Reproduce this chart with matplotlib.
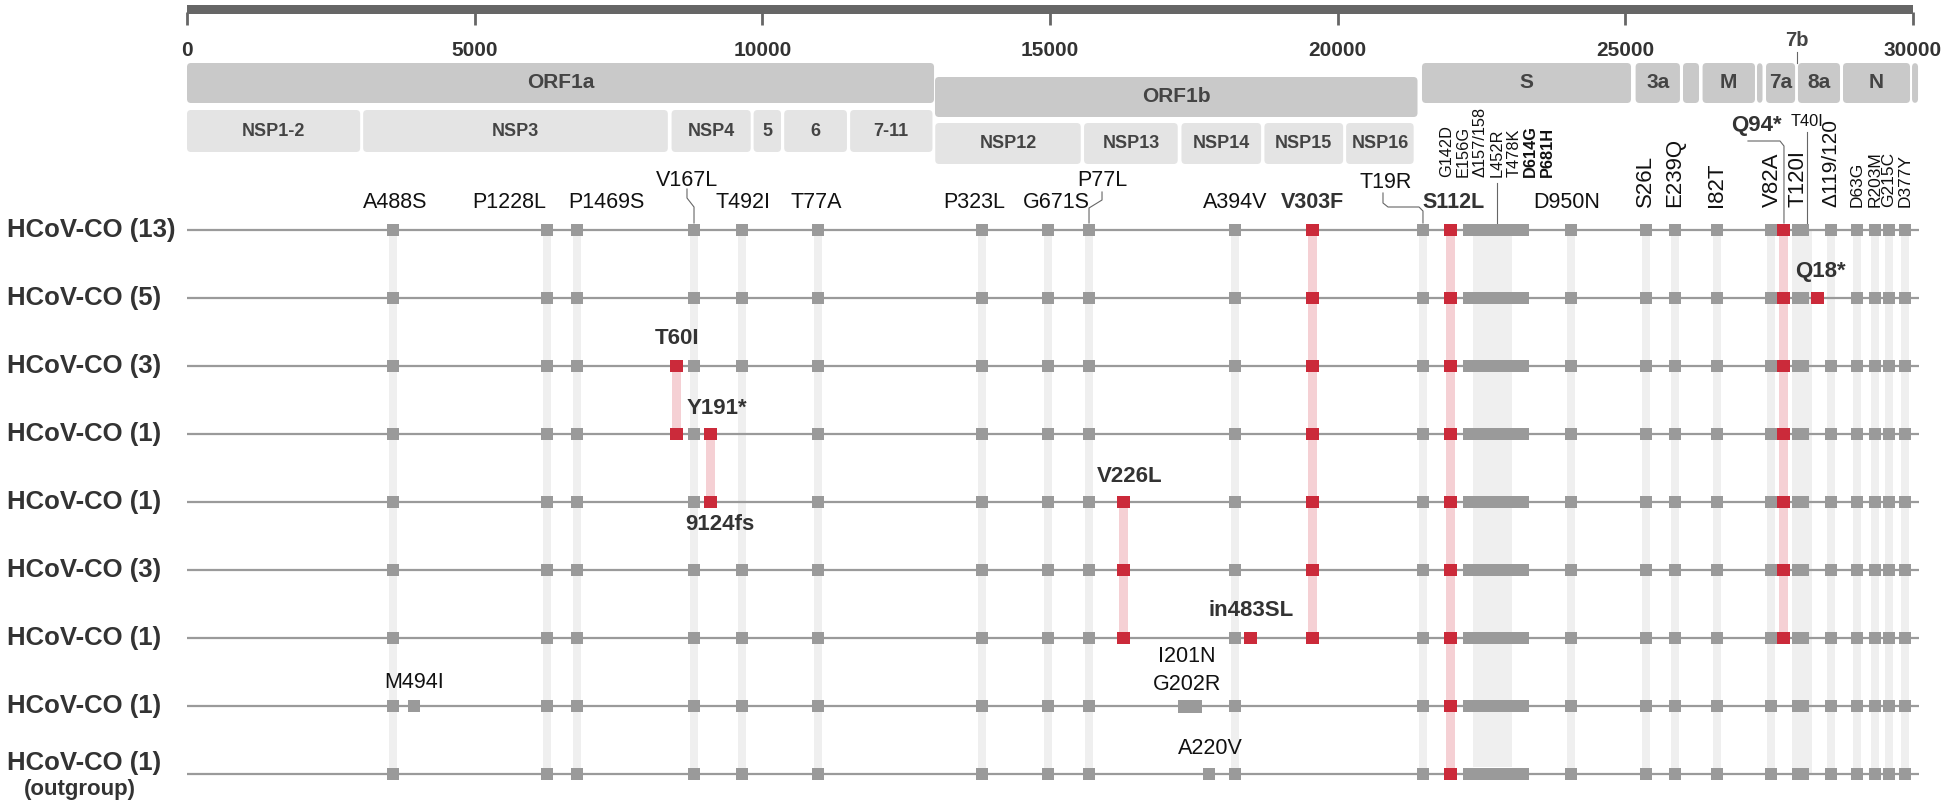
import matplotlib
matplotlib.use('Agg')
import matplotlib.pyplot as plt
from matplotlib.patches import FancyBboxPatch

plt.rcParams['font.family'] = ['Liberation Sans', 'DejaVu Sans']

# ---- data (genome positions in nt) ----
mut_names = ['A488S', 'M494I', 'P1228L', 'P1469S', 'T60I', 'V167L', 'Y191*', '9124fs', 'T492I',
             'T77A', 'P323L', 'G671S', 'P77L', 'V226L', 'A220V', 'A394V', 'in483SL', 'V303F',
             'T19R', 'S112L', 'D950N', 'S26L', 'E239Q', 'I82T', 'V82A', 'Q94*', 'T120I', 'T40I',
             'Q18*', 'D119/120', 'D63G', 'R203M', 'G215C', 'D377Y']
mut_pos = [3586, 3951, 6251, 6779, 8500, 8813, 9108, 9108, 9642,
           10963, 13819, 14959, 15679, 16278, 17763, 18216, 18484, 19572,
           21493, 21971, 24057, 25357, 25865, 26589, 27533, 27759, 27997, 28159,
           28350, 28571, 29028, 29341, 29579, 29863]
pos = dict(zip(mut_names, mut_pos))

spike_block = (22180, 23327)      # clustered spike mutations
spike_band = (22353, 23040)
orf7b_band = (27898, 28246)
i201n_block = (17231, 17641)       # I201N / G202R

genes = ['ORF1a', 'ORF1b', 'S', '3a', '', 'M', '', '7a', '8a', 'N', '']
gene_start = [0, 13002, 21467, 25180, 26004, 26344, 27290, 27447, 28002, 28785, 29985]
gene_end = [12985, 21389, 25100, 25951, 26282, 27255, 27386, 27952, 28733, 29950, 30089]
gene_row = [0, 1, 0, 0, 0, 0, 0, 0, 0, 0, 0]

nsps = ['NSP1-2', 'NSP3', 'NSP4', '5', '6', '7-11', 'NSP12', 'NSP13', 'NSP14', 'NSP15', 'NSP16']
nsp_start = [0, 3062, 8423, 9849, 10381, 11527, 13006, 15593, 17286, 18728, 20148]
nsp_end = [3010, 8358, 9798, 10325, 11471, 12958, 15535, 17221, 18670, 20096, 21322]
nsp_row = [0, 0, 0, 0, 0, 0, 1, 1, 1, 1, 1]

row_labels = ['HCoV-CO (13)', 'HCoV-CO (5)', 'HCoV-CO (3)', 'HCoV-CO (1)', 'HCoV-CO (1)',
              'HCoV-CO (3)', 'HCoV-CO (1)', 'HCoV-CO (1)', 'HCoV-CO (1)']

base = ['A488S', 'P1228L', 'P1469S', 'V167L', 'T492I', 'T77A', 'P323L', 'G671S', 'P77L',
        'A394V', 'T19R', 'D950N', 'S26L', 'E239Q', 'I82T', 'V82A', 'T120I',
        'D119/120', 'D63G', 'R203M', 'G215C', 'D377Y']
row_gray = [
    base,
    [m for m in base if m != 'D119/120'],
    base,
    [m for m in base if m != 'T492I'],
    [m for m in base if m != 'T492I'],
    base,
    base,
    base + ['M494I'],
    base + ['A220V'],
]
row_red = [
    ['V303F', 'S112L', 'Q94*'],
    ['V303F', 'S112L', 'Q94*', 'Q18*'],
    ['T60I', 'V303F', 'S112L', 'Q94*'],
    ['T60I', 'Y191*', 'V303F', 'S112L', 'Q94*'],
    ['9124fs', 'V226L', 'V303F', 'S112L', 'Q94*'],
    ['V226L', 'V303F', 'S112L', 'Q94*'],
    ['V226L', 'in483SL', 'V303F', 'S112L', 'Q94*'],
    ['S112L'],
    ['S112L'],
]
# red links: (mutation, first row, last row)
red_links = [('V303F', 0, 6), ('S112L', 0, 8), ('Q94*', 0, 6), ('T60I', 2, 3),
             ('Y191*', 3, 4), ('V226L', 4, 6)]

# ---- layout ----
PX = 0.05753            # pixels per nt
BP = 1 / PX
GREY = '#9a9a9a'
RED = '#cb2a3a'
PINK = '#f5d0d4'
BAND = '#efefef'
row_y = [230 + 68 * i for i in range(len(row_labels))]

fig = plt.figure(figsize=(19.5, 8), dpi=100)
ax = fig.add_axes([0, 0, 1, 1])
ax.set_xlim(-187 * BP, (1950 - 187) * BP)
ax.set_ylim(800, 0)
ax.axis('off')

# top scale
ax.bar(15000, 9, width=30000, bottom=5, color='#666666', zorder=2)
for t in range(0, 30001, 5000):
    ax.plot([t, t], [12, 25], color='#666666', lw=2, solid_capstyle='butt')
    ax.text(t, 50, str(t), ha='center', va='center', fontsize=15, fontweight='bold', color='#333')

def box(x0, x1, y0, y1, color):
    p = FancyBboxPatch((x0, y0), x1 - x0, y1 - y0,
                       boxstyle='round,pad=0,rounding_size=%f' % (4 * BP),
                       mutation_aspect=PX, facecolor=color, edgecolor='none', zorder=2)
    ax.add_patch(p)

gene_y = [(63, 103), (77, 117)]
for name, s, e, r in zip(genes, gene_start, gene_end, gene_row):
    y0, y1 = gene_y[r]
    box(s, e, y0, y1, '#c9c9c9')
    if name:
        ax.text((s + e) / 2, (y0 + y1) / 2, name, ha='center', va='center',
                fontsize=15, fontweight='bold', color='#444', zorder=3)

nsp_y = [(110, 152), (123, 164)]
for name, s, e, r in zip(nsps, nsp_start, nsp_end, nsp_row):
    y0, y1 = nsp_y[r]
    box(s, e, y0, y1, '#e4e4e4')
    ax.text((s + e) / 2, (y0 + y1) / 2, name, ha='center', va='center',
            fontsize=13, fontweight='bold', color='#444', zorder=3)

# 7b marker
ax.plot([27985, 27985], [52, 63], color='#666', lw=0.8)
ax.text(27985, 41, '7b', ha='center', va='center', fontsize=14.5, fontweight='bold', color='#444')

# vertical background bands
top, bottom = row_y[0], row_y[-1]
band_x = [pos[m] for m in base]
ax.bar(band_x, bottom - top, width=8 * BP, bottom=top, color=BAND, zorder=1)
ax.bar((spike_band[0] + spike_band[1]) / 2, bottom - 7 - top, width=spike_band[1] - spike_band[0],
       bottom=top, color=BAND, zorder=1)
ax.bar((orf7b_band[0] + orf7b_band[1]) / 2, bottom - top, width=orf7b_band[1] - orf7b_band[0],
       bottom=top, color=BAND, zorder=1)
for m, r0, r1 in red_links:
    ax.bar(pos[m], row_y[r1] - row_y[r0], width=9 * BP, bottom=row_y[r0], color=PINK, zorder=1.5)

# rows
ax.hlines(row_y, 0, 30100, color=GREY, lw=1.6, zorder=2)
for i, (lab, y) in enumerate(zip(row_labels, row_y)):
    ly = y if i < len(row_labels) - 1 else y - 11
    ax.text(-180 * BP, ly, lab, ha='left', va='center', fontsize=18.5,
            fontweight='bold', color='#333')
ax.text(-107 * BP, row_y[-1] + 15, '(outgroup)', ha='center', va='center', fontsize=16,
        fontweight='bold', color='#333')

for i, y in enumerate(row_y):
    g = row_gray[i]
    normal = [pos[m] for m in g if m != 'T40I']
    ax.bar(normal, 12, width=12 * BP, bottom=y - 6, color=GREY, zorder=3)
    ax.bar(pos['T40I'], 12, width=5 * BP, bottom=y - 6, color=GREY, zorder=3)
    ax.bar((spike_block[0] + spike_block[1]) / 2, 12, width=spike_block[1] - spike_block[0],
           bottom=y - 6, color=GREY, zorder=3)
    if i == 7:
        ax.bar((i201n_block[0] + i201n_block[1]) / 2, 13, width=i201n_block[1] - i201n_block[0],
               bottom=y - 6.5, color=GREY, zorder=3)
    ax.bar([pos[m] for m in row_red[i]], 12, width=13 * BP, bottom=y - 6, color=RED, zorder=3)

# labels above first row
top_labels = [('A488S', 3615, 202, 'normal'), ('P1228L', 5600, 202, 'normal'),
              ('P1469S', 7285, 202, 'normal'), ('V167L', 8691, 181, 'normal'),
              ('T492I', 9658, 202, 'normal'), ('T77A', 10944, 202, 'normal'),
              ('P323L', 13680, 202, 'normal'), ('G671S', 15120, 202, 'normal'),
              ('P77L', 15905, 181, 'normal'), ('A394V', 18214, 202, 'normal'),
              ('V303F', 19570, 202, 'bold'), ('T19R', 20830, 182, 'normal'),
              ('S112L', 22021, 202, 'bold'), ('D950N', 23984, 203, 'normal')]
for t, x, y, w in top_labels:
    ax.text(x, y, t, ha='center', va='center', fontsize=15.5, fontweight=w,
            color='#333' if w == 'bold' else '#111', zorder=4)

leaders = [([8691, 8691, 8813, 8813], [189, 198, 207, 223]),
           ([15905, 15905, 15679, 15679], [192, 200, 208, 223]),
           ([20789, 20789, 20876, 21415, 21484, 21484], [193, 203, 207, 207, 211, 223]),
           ([22765, 22765], [183, 223]),
           ([27133, 27690, 27759, 27759], [141, 141, 146, 223]),
           ([28159, 28159], [132, 223])]
for xs, ys in leaders:
    ax.plot(xs, ys, color='#666', lw=0.8, zorder=2.5)

spike_labels = ['G142D', 'E156G', '\u0394157/158', 'L452R', 'T478K', 'D614G', 'P681H']
spike_label_x = [21900, 22190, 22480, 22770, 23060, 23350, 23640]
for t, x in zip(spike_labels, spike_label_x):
    ax.text(x, 177, t, rotation=90, ha='center', va='bottom', fontsize=11.8,
            fontweight='bold' if t in ('D614G', 'P681H') else 'normal', color='#111')

rot_labels = [('S26L', 16), ('E239Q', 16), ('I82T', 16), ('V82A', 16), ('T120I', 16),
              ('D119/120', 15), ('D63G', 12.5), ('R203M', 12.5), ('G215C', 12.5), ('D377Y', 12.5)]
for m, fs in rot_labels:
    x = pos[m] + (30 if m == 'V82A' else 0)
    ax.text(x, 207, m.replace('D119', '\u0394119'), rotation=90, ha='center', va='bottom',
            fontsize=fs, color='#111')

ax.text(27284, 126, 'Q94*', ha='center', va='center', fontsize=16, fontweight='bold', color='#333')
ax.text(28153, 121, 'T40I', ha='center', va='center', fontsize=11.8, color='#111')

other_labels = [('T60I', 8517, 339, 'bold'), ('Y191*', 9207, 409, 'bold'),
                ('9124fs', 9265, 524, 'bold'), ('V226L', 16391, 477, 'bold'),
                ('in483SL', 18494, 611, 'bold'), ('Q18*', 28385, 272, 'bold'),
                ('I201N', 17382, 657, 'normal'), ('G202R', 17382, 685, 'normal'),
                ('A220V', 17782, 748, 'normal'), ('M494I', 3954, 682, 'normal')]
for t, x, y, w in other_labels:
    ax.text(x, y, t, ha='center', va='center', fontsize=15.5 if w == 'normal' else 16,
            fontweight=w, color='#333' if w == 'bold' else '#111', zorder=4)

fig.savefig('out.png', dpi=100)
